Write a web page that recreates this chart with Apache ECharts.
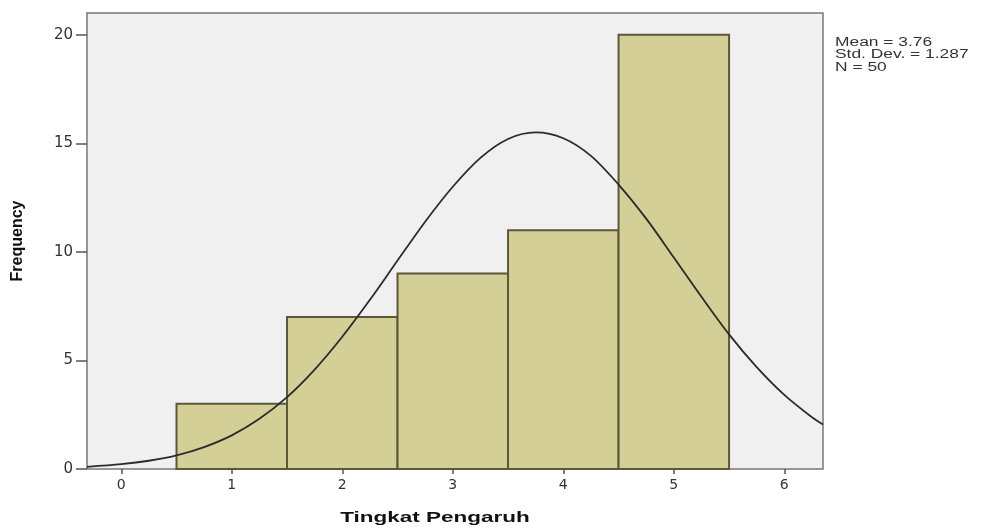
<!DOCTYPE html>
<html>
<head>
<meta charset="utf-8">
<script src="https://cdn.jsdelivr.net/npm/echarts@6/dist/echarts.min.js"></script>
<style>
  html, body { margin: 0; padding: 0; background: #fff; }
  #chart { width: 985px; height: 529px; }
</style>
</head>
<body>
<div id="chart"></div>
<script>
// histogram bins (centre, width 1) and counts
const BIN_CENTERS = [1, 2, 3, 4, 5];
const COUNTS = [3, 7, 9, 11, 20];
const X_TICKS = [0, 1, 2, 3, 4, 5, 6];
const Y_TICKS = [0, 5, 10, 15, 20];
// normal curve
const CURVE_X = [-0.31, 0, 0.25, 0.5, 0.75, 1, 1.25, 1.5, 1.75, 2, 2.25, 2.5, 2.75, 3, 3.25, 3.5, 3.75, 4, 4.25, 4.5, 4.75, 5, 5.25, 5.5, 5.75, 6, 6.25, 6.35];
const CURVE_Y = [0.10, 0.22, 0.38, 0.63, 1.01, 1.55, 2.31, 3.31, 4.58, 6.09, 7.79, 9.6, 11.39, 13.0, 14.33, 15.2, 15.5, 15.23, 14.42, 13.1, 11.53, 9.74, 7.93, 6.2, 4.69, 3.41, 2.38, 2.05];
const STATS = ['Mean = 3.76', 'Std. Dev. = 1.287', 'N = 50'];

const TXT = '#333';
const FONT = 'Liberation Sans, Arial, sans-serif';
const WIDE = 'DejaVu Sans, sans-serif';

const chart = echarts.init(document.getElementById('chart'));
chart.setOption({
  backgroundColor: '#fff',
  animation: false,
  grid: {
    left: 87, top: 13, right: 162, bottom: 60,
    show: true, backgroundColor: '#f0f0f0', borderColor: '#777', borderWidth: 1.5
  },
  xAxis: {
    type: 'value', min: -0.31, max: 6.35,
    axisLine: { show: false, onZero: false },
    splitLine: { show: false },
    axisTick: { show: true, length: 5, customValues: X_TICKS, lineStyle: { color: '#555', width: 1.5 } },
    axisLabel: { customValues: X_TICKS, color: TXT, fontSize: 14, fontFamily: WIDE, margin: 9 }
  },
  yAxis: {
    type: 'value', min: 0, max: 21,
    axisLine: { show: false, onZero: false },
    splitLine: { show: false },
    axisTick: { show: true, length: 11, customValues: Y_TICKS, lineStyle: { color: '#555', width: 1.5 } },
    axisLabel: { customValues: Y_TICKS, color: TXT, fontSize: 15, fontFamily: WIDE, margin: 14 }
  },
  series: [
    {
      type: 'custom',
      data: BIN_CENTERS.map((c, i) => [c, COUNTS[i]]),
      renderItem: function (params, api) {
        const c = api.value(0), v = api.value(1);
        const p0 = api.coord([c - 0.5, v]);
        const p1 = api.coord([c + 0.5, 0]);
        return {
          type: 'rect',
          shape: { x: p0[0], y: p0[1], width: p1[0] - p0[0], height: p1[1] - p0[1] },
          style: { fill: '#d3cf97', stroke: '#5b5838', lineWidth: 2 }
        };
      },
      z: 2
    },
    {
      type: 'line',
      data: CURVE_X.map((x, i) => [x, CURVE_Y[i]]),
      smooth: 0.3,
      showSymbol: false,
      lineStyle: { color: '#2b2b2b', width: 1.8 },
      z: 3
    }
  ],
  graphic: [
    {
      type: 'text', x: 835, y: 36, scaleX: 1.45,
      style: { text: STATS.join('\n'), fill: TXT, font: '12px ' + FONT, lineHeight: 12.5 }
    },
    {
      type: 'text', x: 18, y: 241, rotation: Math.PI / 2,
      style: { text: 'Frequency', fill: '#111', font: 'bold 16px ' + FONT, align: 'center', verticalAlign: 'middle' }
    },
    {
      type: 'text', x: 435, y: 518, scaleX: 1.5,
      style: { text: 'Tingkat Pengaruh', fill: '#111', font: 'bold 15px ' + FONT, align: 'center', verticalAlign: 'middle' }
    }
  ]
});
</script>
</body>
</html>
